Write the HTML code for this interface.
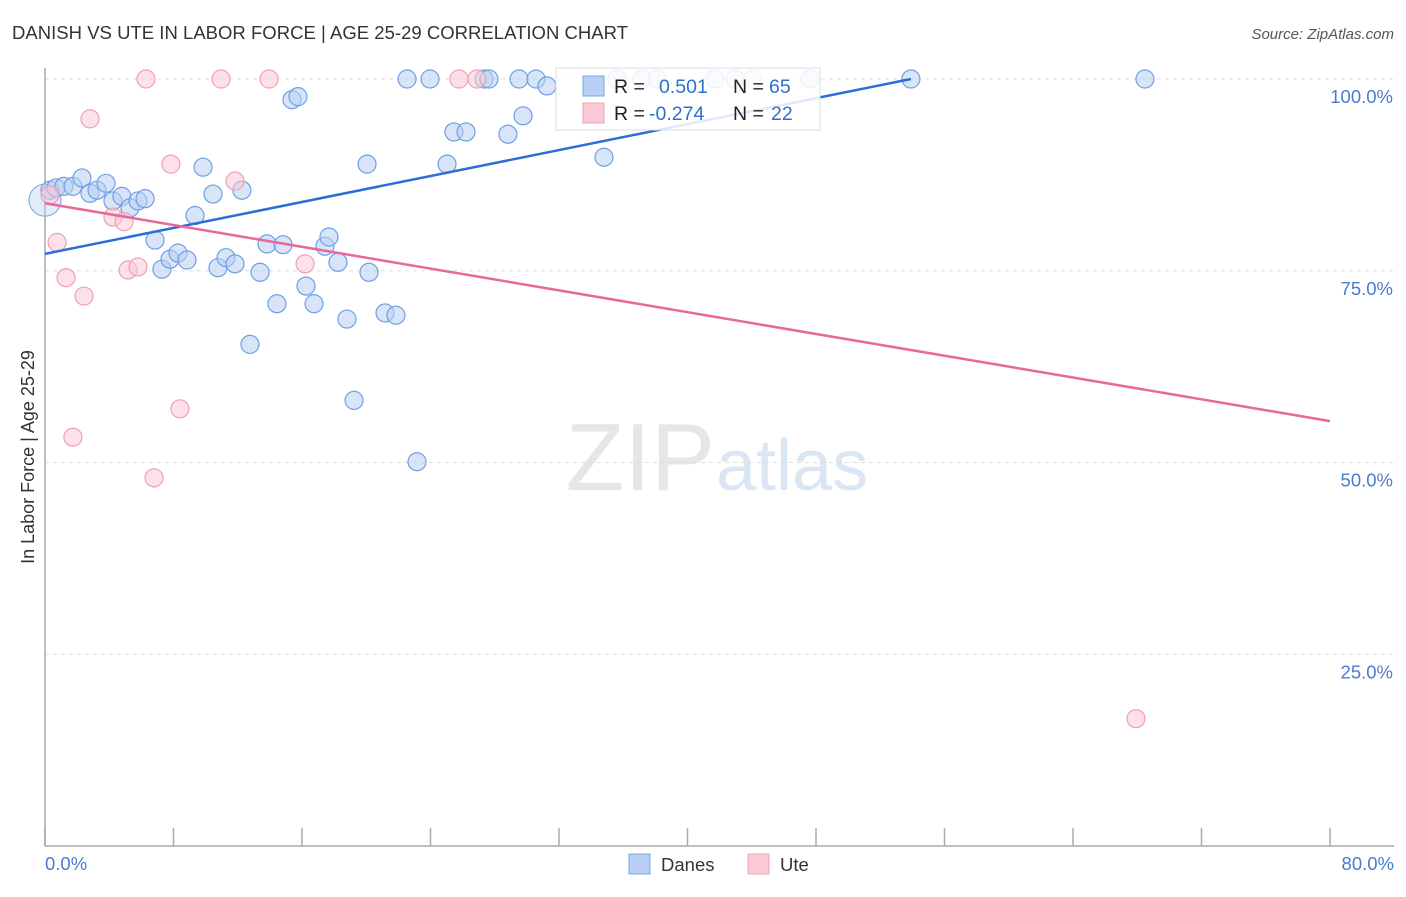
<!DOCTYPE html>
<html><head><meta charset="utf-8"><style>
body{margin:0;background:#fff;font-family:"Liberation Sans",sans-serif;}
svg text{font-family:"Liberation Sans",sans-serif;}
</style></head><body>
<svg id="c" width="1406" height="892" xmlns="http://www.w3.org/2000/svg">
<text x="12" y="39" font-size="18.5" fill="#333" textLength="616">DANISH VS UTE IN LABOR FORCE | AGE 25-29 CORRELATION CHART</text>
<text x="1394" y="39" font-size="15" fill="#555" font-style="italic" text-anchor="end">Source: ZipAtlas.com</text>
<text x="715" y="490" font-size="96" fill="#e6e6e6" font-family="Liberation Serif" text-anchor="end">ZIP</text>
<text x="716" y="490" font-size="72" fill="#dbe6f5">atlas</text>
<g id="grid"></g>
<line x1="45" y1="68" x2="45" y2="846" stroke="#aaa" stroke-width="1.5"/>
<line x1="45" y1="846" x2="1394" y2="846" stroke="#aaa" stroke-width="1.5"/>
<text transform="translate(34,457) rotate(-90)" font-size="18" fill="#333" text-anchor="middle">In Labor Force | Age 25-29</text>
<g id="pts"></g>
<g id="lines"></g>
<g>
<rect x="556" y="68" width="264" height="62" fill="#fff" fill-opacity="0.85" stroke="#ddd"/>
<rect x="583" y="76" width="21" height="20" fill="#b8d0f3" stroke="#7aa6e6"/>
<rect x="583" y="103" width="21" height="20" fill="#fbc9d6" stroke="#f0a2b8"/>
<text x="614" y="93" font-size="19.5" fill="#222">R = <tspan x="659" fill="#2f6fd0">0.501</tspan><tspan x="733" fill="#222">N = </tspan><tspan x="769" fill="#2f6fd0">65</tspan></text>
<text x="614" y="120" font-size="19.5" fill="#222">R = <tspan x="649" fill="#2f6fd0">-0.274</tspan><tspan x="733" fill="#222">N = </tspan><tspan x="771" fill="#2f6fd0">22</tspan></text>
</g>
<g>
<rect x="629" y="854" width="21" height="20" fill="#b8d0f3" stroke="#7aa6e6"/>
<text x="661" y="871" font-size="18.5" fill="#333">Danes</text>
<rect x="748" y="854" width="21" height="20" fill="#fbc9d6" stroke="#f0a2b8"/>
<text x="780" y="871" font-size="18.5" fill="#333">Ute</text>
</g>
<text x="45" y="870" font-size="18.5" fill="#4a7bd0">0.0%</text>
<text x="1394" y="870" font-size="18.5" fill="#4a7bd0" text-anchor="end">80.0%</text>
</svg>
<script>
const blueX=[0.31,0.68,1.18,1.74,2.30,2.80,3.24,3.80,4.23,4.79,5.29,5.79,6.23,6.85,7.28,7.78,8.28,8.84,9.34,9.84,10.46,10.77,11.27,11.83,12.26,12.76,13.39,13.82,14.44,14.82,15.38,15.75,16.25,16.75,17.43,17.68,18.24,18.80,19.24,20.05,20.17,21.17,21.85,22.54,23.16,23.97,25.03,25.46,26.21,27.33,27.64,28.82,29.51,29.76,30.57,31.25,34.80,35.61,37.17,38.10,41.71,42.96,47.63,53.91,68.48];
const blueY=[85.5,85.8,86.0,86.0,87.1,85.1,85.5,86.4,84.1,84.7,83.2,84.1,84.4,79.0,75.2,76.5,77.3,76.4,82.2,88.5,85.0,75.4,76.7,75.9,85.5,65.4,74.8,78.5,70.7,78.4,97.3,97.7,73.0,70.7,78.2,79.4,76.1,68.7,58.1,88.9,74.8,69.5,69.2,100,50.1,100,88.9,93.1,93.1,100,100,92.8,100,95.2,100,99.1,89.8,100,100,100,100,100,100,100,100];
const pinkX=[0.31,0.75,1.31,1.74,2.43,2.80,4.23,4.92,5.17,5.79,6.29,6.79,7.84,8.40,10.96,11.83,13.95,16.19,25.77,26.89,44.08,67.92];
const pinkY=[84.9,78.7,74.1,53.3,71.7,94.8,82.0,81.4,75.1,75.5,100,48.0,88.9,57.0,100,86.7,100,75.9,100,100,100,16.6];
const yTicks=[100,75,50,25];
const xTicks=[0,8,16,24,32,40,48,56,64,72,80];
const blueTrend=[[0,77.2],[53.91,100]];
const pinkTrend=[[0,83.8],[80,55.4]];
const sx=v=>45+v*1285/80, sy=v=>846-v*7.67;
const NS='http://www.w3.org/2000/svg';
function mk(t,a,p){const e=document.createElementNS(NS,t);for(const k in a)e.setAttribute(k,a[k]);p.appendChild(e);return e;}
const grid=document.getElementById('grid');
yTicks.forEach(t=>{
 const l=mk('line',{x1:45,x2:1394,y1:sy(t),y2:sy(t),stroke:'#ddd','stroke-dasharray':'4,4'},grid);
 
 
 const tx=mk('text',{x:1393,y:sy(t)+24,'font-size':18.5,fill:'#4a7bd0','text-anchor':'end'},grid);
 tx.textContent=t.toFixed(1)+'%';
 
 
});
xTicks.forEach(t=>{
 const l=mk('line',{x1:sx(t),x2:sx(t),y1:828,y2:846,stroke:'#aaa','stroke-width':1.5},grid);
 
 
});
const pts=document.getElementById('pts');
const big=mk('circle',{cx:sx(0),cy:sy(84.2),r:16,fill:'#b8d0f3','fill-opacity':0.4,stroke:'#7aa6e6','stroke-width':1},pts);


blueX.forEach((x,i)=>{
 const c=mk('circle',{cx:sx(x),cy:sy(blueY[i]),r:9,fill:'#b8d0f3','fill-opacity':0.55,stroke:'#6f9fe3','stroke-width':1.2},pts);
 
 
});
pinkX.forEach((x,i)=>{
 const c=mk('circle',{cx:sx(x),cy:sy(pinkY[i]),r:9,fill:'#fbc9d6','fill-opacity':0.55,stroke:'#ef9fb6','stroke-width':1.2},pts);
 
 
});
const lines=document.getElementById('lines');
const bl=mk('line',{x1:sx(blueTrend[0][0]),y1:sy(blueTrend[0][1]),x2:sx(blueTrend[1][0]),y2:sy(blueTrend[1][1]),stroke:'#2b6fd6','stroke-width':2.5},lines);


const pl=mk('line',{x1:sx(pinkTrend[0][0]),y1:sy(pinkTrend[0][1]),x2:sx(pinkTrend[1][0]),y2:sy(pinkTrend[1][1]),stroke:'#e8689a','stroke-width':2.5},lines);


</script>
</body></html>
